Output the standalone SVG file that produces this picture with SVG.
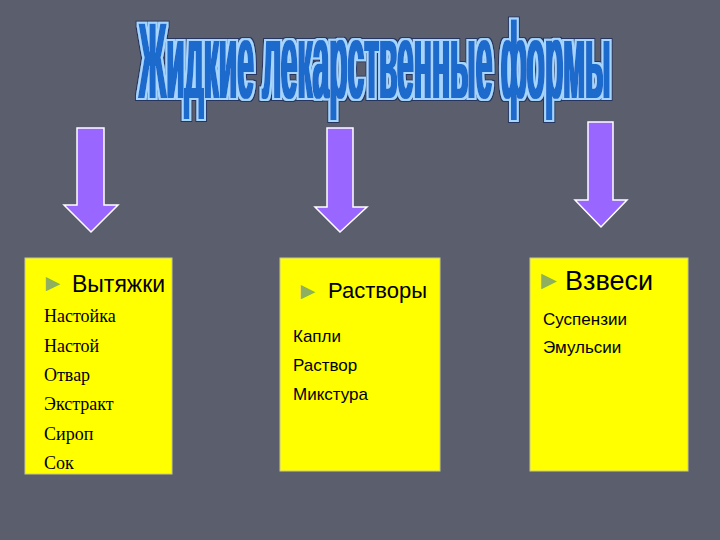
<svg xmlns="http://www.w3.org/2000/svg" width="720" height="540" viewBox="0 0 720 540">
  <defs>
    <style>
      .arrow { fill: #9966ff; stroke: #ffffff; stroke-width: 1.5; stroke-linejoin: miter; }
      .box { fill: #ffff00; stroke: #c9c98e; stroke-width: 1; }
      .head { font-family: "Liberation Sans", Arial, sans-serif; fill: #000000; }
      .bullet { font-family: "Liberation Sans", Arial, "DejaVu Sans", sans-serif; fill: #8fb060; }
      .serif { font-family: "Liberation Serif", "Times New Roman", serif; font-size: 18px; fill: #000000; }
      .sans { font-family: "Liberation Sans", Arial, sans-serif; font-size: 17px; fill: #000000; }
      .title { font-family: "Liberation Sans", Arial, sans-serif; font-weight: bold; font-size: 104px; fill: #1a6acc; }
    </style>
    <filter id="wordart" filterUnits="userSpaceOnUse" x="120" y="5" width="510" height="125">
      <feMorphology in="SourceAlpha" operator="dilate" radius="3.6 3.2" result="d2"/>
      <feFlood flood-color="#27345e"/>
      <feComposite in2="d2" operator="in" result="dark"/>
      <feMorphology in="SourceAlpha" operator="dilate" radius="2.6 2.3" result="d1"/>
      <feFlood flood-color="#a6d6ff"/>
      <feComposite in2="d1" operator="in" result="light"/>
      <feMorphology in="SourceGraphic" operator="dilate" radius="1.2 0.3" result="thick"/>
      <feMerge>
        <feMergeNode in="dark"/>
        <feMergeNode in="light"/>
        <feMergeNode in="thick"/>
      </feMerge>
    </filter>
  </defs>

  <rect x="0" y="0" width="720" height="540" fill="#5a5e6d"/>

  <g id="title" filter="url(#wordart)">
    <text class="title" transform="translate(139,98) scale(0.2808,1.03)" x="0" y="0" textLength="1680" lengthAdjust="spacingAndGlyphs">Жидкие лекарственные формы</text>
  </g>

  <g id="connectors">
    <polygon class="arrow" points="77,128 104,128 104,205 118,205 91,232 64,205 77,205"/>
    <polygon class="arrow" points="327,128 353,128 353,207 367,207 340,232 315,207 327,207"/>
    <polygon class="arrow" points="588,122 613,122 613,200 627,200 601,227 575,200 588,200"/>
  </g>

  <g id="node-vytyazhki">
    <rect class="box" x="25" y="258" width="147" height="216"/>
    <text class="head"><tspan class="bullet" x="41" y="290.5" font-size="24">►</tspan><tspan x="72" y="292" font-size="23">Вытяжки</tspan></text>
    <text class="serif" x="44" y="322">Настойка</text>
    <text class="serif" x="44" y="351.5">Настой</text>
    <text class="serif" x="44" y="381">Отвар</text>
    <text class="serif" x="44" y="410">Экстракт</text>
    <text class="serif" x="44" y="439.5">Сироп</text>
    <text class="serif" x="44" y="469">Сок</text>
  </g>

  <g id="node-rastvory">
    <rect class="box" x="280" y="258" width="160" height="213"/>
    <text class="head"><tspan class="bullet" x="296" y="299" font-size="24">►</tspan><tspan x="328" y="298" font-size="22">Растворы</tspan></text>
    <text class="sans" x="293" y="342">Капли</text>
    <text class="sans" x="293" y="371">Раствор</text>
    <text class="sans" x="293" y="400">Микстура</text>
  </g>

  <g id="node-vzvesi">
    <rect class="box" x="530" y="258" width="158" height="213"/>
    <text class="head"><tspan class="bullet" x="536" y="289" font-size="26">►</tspan><tspan x="565" y="290" font-size="27">Взвеси</tspan></text>
    <text class="sans" x="543" y="325">Суспензии</text>
    <text class="sans" x="543" y="353">Эмульсии</text>
  </g>
</svg>
